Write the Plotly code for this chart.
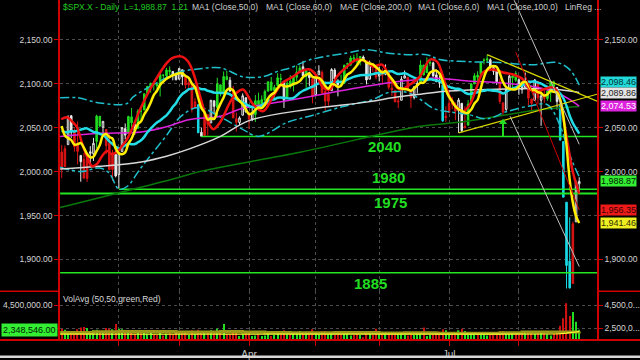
import plotly.graph_objects as go
import pandas as pd

# ---------------- DATA ----------------
month_days = {
    1: [6,7,8,9,12,13,14,15,16,20,21,22,23,26,27,28,29,30],
    2: [2,3,4,5,6,9,10,11,12,13,17,18,19,20,23,24,25,26,27],
    3: [2,3,4,5,6,9,10,11,12,13,16,17,18,19,20,23,24,25,26,27,30,31],
    4: [1,2,6,7,8,9,10,13,14,15,16,17,20,21,22,23,24,27,28,29,30],
    5: [1,4,5,6,7,8,11,12,13,14,15,18,19,20,21,22,26,27,28,29],
    6: [1,2,3,4,5,8,9,10,11,12,15,16,17,18,19,22,23,24,25,26,29,30],
    7: [1,2,6,7,8,9,10,13,14,15,16,17,20,21,22,23,24,27,28,29,30,31],
    8: [3,4,5,6,7,10,11,12,13,14,17,18,19,20,21,24,25,26,27,28],
}
dates = [f"2015-{m:02d}-{d:02d}" for m, ds in month_days.items() for d in ds]

opens = [2022.15,2005.55,2030.61,2063.45,2046.13,2031.58,2018.40,2013.75,1992.25,2020.76,2020.19,2034.30,2062.98,2050.42,2047.86,2032.34,2002.45,2019.35,
 1996.67,2022.71,2048.86,2043.45,2062.28,2053.47,2049.38,2068.55,2069.98,2088.78,2096.47,2099.16,2099.25,2097.65,2109.83,2109.10,2115.30,2113.91,2110.88,
 2105.23,2115.76,2107.72,2098.54,2100.91,2072.25,2076.14,2044.69,2041.10,2064.56,2055.35,2080.59,2072.84,2098.69,2090.32,2107.99,2103.94,2093.10,2059.94,2055.78,2064.11,2084.05,
 2067.63,2060.03,2064.87,2080.79,2076.94,2081.29,2091.51,2102.03,2092.28,2097.82,2105.96,2102.58,2084.11,2102.82,2098.27,2107.21,2112.80,2119.29,2108.35,2112.49,2105.52,
 2087.38,2110.23,2112.63,2091.26,2079.96,2092.13,2115.56,2102.87,2099.62,2100.43,2122.07,2121.30,2129.45,2127.79,2125.55,2130.36,2125.34,2105.13,2122.27,2120.66,
 2108.64,2110.41,2110.64,2112.35,2095.09,2092.34,2079.07,2081.12,2106.24,2107.43,2091.34,2084.26,2097.40,2101.58,2121.06,2112.50,2123.16,2123.65,2109.96,2102.62,2098.63,2061.19,
 2067.00,2078.03,2073.95,2069.52,2077.66,2049.73,2052.74,2080.03,2099.72,2109.73,2110.55,2126.80,2126.85,2127.19,2118.21,2114.16,2102.24,2078.19,2070.75,2093.51,2106.78,2111.60,
 2104.49,2097.68,2095.27,2100.75,2082.61,2080.98,2102.66,2081.10,2086.19,2083.15,2089.70,2101.99,2095.69,2076.61,2034.08,1965.15,1898.08,1872.75,1942.77,1986.06]
highs = [2030.25,2029.61,2064.08,2064.43,2049.30,2056.93,2018.40,2021.35,2020.46,2028.94,2038.29,2064.62,2062.98,2057.62,2047.86,2042.49,2024.64,2023.32,
 2021.66,2050.30,2054.74,2063.55,2072.40,2056.16,2070.86,2073.48,2088.53,2097.03,2101.30,2100.23,2102.13,2110.61,2110.05,2117.94,2119.59,2113.91,2112.74,
 2117.52,2115.76,2107.72,2104.25,2100.91,2083.49,2076.14,2050.08,2066.41,2064.56,2081.41,2080.59,2106.85,2098.69,2113.92,2114.86,2107.63,2097.43,2067.15,2062.83,2088.97,2084.05,
 2067.63,2072.17,2086.99,2089.81,2086.69,2093.31,2102.61,2107.65,2098.62,2111.91,2111.30,2102.58,2103.94,2109.64,2109.98,2120.49,2120.92,2125.92,2116.04,2113.65,2105.52,
 2108.41,2120.95,2115.24,2098.42,2092.90,2117.66,2117.69,2105.06,2110.19,2121.45,2123.89,2131.78,2133.02,2134.72,2131.42,2132.15,2125.34,2126.22,2122.27,2120.66,
 2119.15,2117.59,2121.92,2112.89,2100.99,2093.01,2085.62,2108.50,2115.02,2107.43,2091.34,2097.40,2106.79,2126.65,2121.64,2129.87,2128.03,2125.10,2116.04,2108.92,2098.63,2074.28,
 2082.78,2085.06,2078.61,2083.74,2077.66,2074.28,2081.31,2100.67,2111.98,2114.14,2124.42,2128.91,2132.82,2128.91,2118.51,2116.87,2106.01,2078.19,2095.60,2110.60,2110.48,2114.24,
 2105.70,2102.51,2112.66,2103.32,2082.61,2105.35,2102.66,2089.06,2092.93,2092.45,2102.87,2103.47,2096.17,2076.61,2034.08,1965.15,1948.04,1943.09,1989.60,1993.48]
lows = [1992.44,2005.55,2030.61,2038.33,2022.58,2008.25,1988.44,1991.47,1988.12,2004.49,2012.04,2026.38,2050.54,2040.97,2019.91,2001.49,1989.18,1993.38,
 1980.90,2022.71,2036.72,2043.45,2049.97,2041.88,2048.62,2057.99,2069.98,2086.70,2089.80,2092.15,2090.79,2085.44,2103.00,2105.87,2109.89,2103.76,2103.75,
 2104.50,2098.26,2094.49,2095.22,2067.27,2072.21,2044.16,2039.69,2041.10,2041.17,2055.35,2065.08,2061.23,2085.56,2090.32,2104.42,2091.50,2061.05,2045.50,2052.96,2064.11,2067.04,
 2048.38,2057.32,2056.52,2076.10,2073.30,2074.29,2091.51,2092.33,2083.24,2097.82,2100.02,2072.37,2084.11,2094.38,2091.05,2103.19,2112.80,2107.04,2094.89,2097.41,2077.59,
 2087.38,2110.23,2088.46,2067.93,2074.99,2092.13,2104.58,2085.57,2096.04,2100.43,2116.81,2120.01,2124.50,2122.59,2120.88,2126.06,2099.18,2105.13,2112.86,2104.89,
 2102.54,2099.14,2109.61,2093.23,2085.67,2079.11,2072.14,2081.12,2106.24,2091.33,2072.49,2082.10,2088.86,2101.58,2109.45,2112.50,2119.89,2108.58,2101.78,2095.38,2056.64,2056.32,
 2067.00,2071.02,2058.40,2044.02,2044.66,2049.73,2052.74,2080.03,2099.72,2102.49,2110.55,2122.01,2123.66,2115.40,2110.00,2098.63,2077.09,2063.52,2069.09,2093.51,2094.97,2102.07,
 2087.31,2088.60,2095.27,2075.53,2067.91,2080.98,2076.49,2052.09,2078.26,2080.61,2079.30,2094.14,2070.53,2035.73,1970.89,1867.01,1867.08,1872.75,1942.77,1975.19]
closes = [2002.61,2025.90,2062.14,2044.81,2028.26,2023.03,2011.27,1992.67,2019.42,2022.55,2032.12,2063.15,2051.82,2057.09,2029.55,2002.16,2021.25,1994.99,
 2020.85,2050.03,2041.51,2062.52,2055.47,2046.74,2068.59,2068.53,2088.48,2096.99,2100.34,2099.68,2097.45,2110.30,2109.66,2115.48,2113.86,2110.74,2104.50,
 2117.39,2107.78,2098.53,2101.04,2071.26,2079.43,2044.16,2040.24,2065.95,2053.40,2081.19,2074.28,2099.50,2089.27,2108.10,2104.42,2091.50,2061.05,2056.15,2061.02,2086.24,2067.89,
 2059.69,2066.96,2080.62,2076.33,2081.90,2091.18,2102.06,2092.43,2095.84,2106.63,2104.99,2081.18,2100.40,2097.29,2107.96,2112.93,2117.69,2108.92,2114.76,2106.85,2085.51,
 2108.29,2114.49,2089.46,2080.15,2088.00,2116.10,2105.33,2099.12,2098.48,2121.10,2122.73,2129.20,2127.83,2125.85,2130.82,2126.06,2104.20,2123.48,2120.79,2107.39,
 2111.73,2109.60,2114.07,2095.84,2092.83,2079.28,2080.15,2105.20,2108.86,2094.11,2084.43,2096.29,2100.44,2121.24,2109.99,2122.85,2124.20,2108.58,2102.31,2101.49,2057.64,2063.11,
 2077.42,2076.78,2068.76,2081.34,2046.68,2051.31,2076.62,2099.60,2108.95,2107.40,2124.29,2126.64,2128.28,2119.21,2114.15,2102.15,2079.65,2067.64,2093.25,2108.57,2108.63,2103.84,
 2098.04,2093.32,2099.84,2083.56,2077.57,2104.18,2084.07,2086.05,2083.39,2091.54,2102.44,2096.92,2079.61,2035.73,1970.89,1893.21,1867.61,1940.51,1987.66,1988.87]
# closes Dec 8 2014 .. Jan 5 2015 (warm-up for the moving averages)
prior_closes = [2060.31,2059.82,2026.14,2035.33,2002.33,1989.63,1972.74,2012.89,2061.23,2070.65,
                2078.54,2082.17,2081.88,2088.77,2090.57,2080.35,2058.90,2058.20,2020.58]

# paint-bar state per candle: g=green, r=red, w=white, c=cyan
candle_state = ("rrwwrrwrrwwggwrrrw" "wwwggwgggggggggggww" "wwrrrrcwrrwwggggwrrwww"
                "rwgggggggggwgggggwgwr" "wwrrrwwwgggggggwwwrr" "wrwrrrrwwrrwwggggwwwcr"
                "rrrwwrgggggggwwwrrwwgg" "wwwrrwrwrgggwccccrww")

volumes = [2.45,2.35,2.25,2.15,2.25,2.4,2.55,2.6,2.5,2.2,2.3,2.35,2.1,2.05,2.5,2.45,2.4,2.85,
 2.45,2.4,2.3,2.2,2.15,2.0,2.1,2.05,2.2,2.0,2.1,1.95,1.9,2.1,1.85,2.0,2.05,1.95,2.15,
 2.0,2.1,2.1,1.9,2.3,2.0,2.35,2.2,2.05,2.1,2.3,2.05,2.45,2.15,2.85,2.0,2.0,2.3,2.2,1.8,1.95,2.1,
 2.15,1.8,1.85,1.95,1.8,1.85,2.0,1.8,1.9,2.05,1.95,2.3,1.95,1.95,2.0,2.05,2.25,2.0,2.2,2.2,2.4,
 2.1,1.95,2.2,2.25,2.1,2.0,1.9,2.05,1.95,2.05,2.0,1.85,1.9,2.0,1.9,1.7,2.1,1.95,1.9,2.45,
 1.95,2.0,2.0,2.15,1.95,1.95,2.0,2.1,1.9,1.85,1.95,1.9,1.95,2.0,2.55,1.8,1.9,1.95,1.95,2.2,2.4,2.3,
 2.1,1.9,2.05,2.3,2.45,2.25,2.15,2.05,1.95,1.9,2.0,1.95,1.85,2.0,2.05,2.1,2.2,2.25,2.1,2.15,2.0,2.05,
 2.1,2.15,2.2,2.25,2.1,2.0,2.15,2.2,2.05,1.95,1.85,2.0,2.25,2.7,3.35,4.67,3.55,3.9,3.05,2.348546]
prior_close_for_volume = 2020.58

# slow lines (index of trading day, price)
ma50_idx = [-0.5,12,25,33,40,50,57,70,85,96,106,113,117,128,138,148,157,163]
ma50_val = [2040,2043.5,2045,2051,2059,2063,2072,2080,2090,2097,2102.5,2105,2106.5,2103,2101,2097,2088,2074.53]
ma100_idx = [-0.5,12,25,33,40,50,59,78,96,106,113,120,130,140,150,157,163]
ma100_val = [2003,2006,2011,2017.5,2025.5,2040,2058,2071,2079,2085,2088,2091,2093,2094,2094.5,2093,2089.86]
ema200_idx = [-0.5,35,44,75,113,125,151,163]
ema200_val = [1959,1991.5,2000.5,2022,2051.5,2056,2070.5,2074]
env_up_idx = [-0.5,5,12,20.6,22.5,30,36.3,43.6,50,57,63.4,68,72,78,90,96,102.4,109,115,119,128.6,138,148.4,156,160,163]
env_up_val = [2084,2084,2078,2077.5,2085,2101,2112.5,2117,2118,2108,2108,2114,2118,2127,2135,2138.5,2135,2133,2133,2127.5,2125,2124,2121.5,2124,2116,2098.46]
env_lo_idx = [-0.5,6,12,15,18,20.6,24.7,28.8,33.2,37.3,43,50,57,62,71,78,88.6,98,103,109,113,117,122,128,134,140,148,153,157,159,161,163]
env_lo_val = [2005,2000,2004,1998,1980,1983,2003,2022,2042,2062,2073,2062,2048,2040,2056,2063,2074,2082,2090,2090,2082,2072,2068,2065,2060,2068,2075,2076,2052,2030,2010,1994]
red_idx = [-0.2,1.7,3.2,4.8,6.3,7.9,9.5,11.1,12.7,14.3,15.8,17.4,19,20.6,22.5,24.7,27.8,31,33.2,35.1,37.9,39.8,41.4,43.6,45.8,47.7,49.9,53,55.2,57.1,60.3,63.4,66.6,69.7,72.9,75.1,78.2,80.4,82.3,84.5,86.7,89.9,93,96.1,98,100.9,103.4,106.5,109.7,112.8,116,118.2,120.1,122.3,124.5,126.4,128.6,130.8,132.7,135.9,139,142.2,145.3,147.5,149.7,151.6,154.7,156.3,157.9,159.5,161,163]
red_val = [2059.5,2061.8,2057.2,2050.5,2033.5,2017.6,2006.3,2008.6,2017.6,2023.3,2019.9,2022.2,2029,2036.9,2051.6,2070.8,2093.4,2112.7,2124,2129.6,2130.8,2125.1,2112.7,2085.5,2059.5,2048.2,2056.1,2078.7,2090,2093.4,2076.5,2068.6,2085.5,2101.4,2108.1,2113.8,2116.1,2108.1,2095.7,2093.4,2108.1,2119.5,2127.4,2125.1,2119.5,2121.7,2107,2093.4,2099.1,2108.1,2127.4,2125.1,2108.1,2084.4,2073.1,2068.6,2076.5,2096.8,2112.7,2116.1,2112.7,2110.4,2104.8,2093.4,2090,2093.4,2095.7,2090,2062.9,2029,1999.5,1975]

# drawn studies
support_levels = [2040, 1980, 1975, 1885]
support_start = [44, 18, -0.5, -0.5]
support_label_idx = [101.8, 103, 103.7, 97.1]
support_label_shift = [-10, 12, -9, -11]
linreg_idx, linreg_val = [143, 163], [2135.91, 1956.35]
chan_a_idx, chan_a_val = [142.5, 163], [2195, 2031]
chan_b_idx, chan_b_val = [141.2, 163], [2063, 1892]
tri_top_idx, tri_top_val = [134, 168.6], [2133, 2080]
tri_bot_idx, tri_bot_val = [125, 168.6], [2044, 2088]
arrow_idx, arrow_lo, arrow_hi = 139, 2040, 2056
volavg_idx = [-0.5, 40, 80, 120, 150, 156, 159, 161, 163]
volavg_val = [1.97, 1.96, 1.95, 1.95, 1.96, 1.98, 2.05, 2.12, 2.2]
volavg2_idx = [-0.5,10,18,27,36,43,50,57,64,72,79,86,93,100,108,118,128,138,145,155,163]
volavg2_val = [2.12,2.17,2.2,2.2,2.15,2.15,2.2,2.15,2.12,2.1,2.1,2.12,2.12,2.08,2.1,2.05,2.05,2.1,2.15,2.15,2.2]
box_values = [2098.46, 2089.86, 2074.53, 1988.87, 1956.35, 1941.46]
box_shift = [3, 0, 0, 0, 0, 0]
box_colors = ["#22d8d8", "#e4e4e4", "#dd22dd", "#33ee33", "#ee1a1a", "#eeee22"]
box_text = ["#003333", "#222222", "#ffffff", "#002200", "#3a0000", "#333300"]
legend_items = ["MA1 (Close,50,0)", "MA1 (Close,60,0)", "MAE (Close,200,0)", "MA1 (Close,6,0)", "MA1 (Close,100,0)", "LinReg ..."]
legend_px = [190, 264, 338, 416, 485, 563]

# ---------------- FIGURE ----------------
n = len(dates)
idx = list(range(n))
X_MIN, X_MAX = -0.54, 168.6
PL, PR, PT, PB = 60, 597, 0, 342
def px(x): return (x - PL) / (PR - PL)
def py(y): return (PB - y) / (PB - PT)

all_c = pd.Series(prior_closes + closes)
ma6 = all_c.rolling(6).mean().iloc[len(prior_closes):].tolist()
ma20 = all_c.rolling(20).mean().iloc[len(prior_closes):].tolist()

fig = go.Figure()
state_colors = {"g": "#22dd22", "r": "#dd1515", "w": "#e8e8e8", "c": "#19d9e6"}
for code, col in state_colors.items():
    sel = [i for i in idx if candle_state[i] == code]
    inc_fill = "#000000" if code == "w" else col
    fig.add_trace(go.Candlestick(
        x=sel, open=[opens[i] for i in sel], high=[highs[i] for i in sel],
        low=[lows[i] for i in sel], close=[closes[i] for i in sel],
        increasing=dict(line=dict(color=col, width=1), fillcolor=inc_fill),
        decreasing=dict(line=dict(color=col, width=1), fillcolor=col),
        whiskerwidth=0, showlegend=False, hoverinfo="skip", xaxis="x", yaxis="y"))

def line(xs, ys, color, width, dash="solid", shape="linear", yaxis="y"):
    fig.add_trace(go.Scatter(x=xs, y=ys, mode="lines", hoverinfo="skip", showlegend=False,
                             line=dict(color=color, width=width, dash=dash, shape=shape),
                             xaxis="x", yaxis=yaxis))

# support levels
for lvl, st in zip(support_levels, support_start):
    line([st, X_MAX], [lvl, lvl], "#22e622", 2 if lvl == 1975 else 1.5)

line(ema200_idx, ema200_val, "#0b780b", 1.5, shape="spline")
line(env_up_idx, env_up_val, "#1fc0cc", 1.5, dash="dashdot", shape="spline")
line(env_lo_idx, env_lo_val, "#1fc0cc", 1.5, dash="dashdot", shape="spline")
line(ma100_idx, ma100_val, "#d8d8d8", 1.5, shape="spline")
line(ma50_idx, ma50_val, "#dd22dd", 1.5, shape="spline")
line(idx, ma20, "#22dde6", 2.5, shape="spline")
line(red_idx, red_val, "#ee1111", 2.5, shape="spline")
line(idx, ma6, "#ffee00", 2.5, shape="spline")
line(tri_top_idx, tri_top_val, "#d8d800", 1.2)
line(tri_bot_idx, tri_bot_val, "#d8d800", 1.2)
line(chan_a_idx, chan_a_val, "#c0c0c0", 1)
line(chan_b_idx, chan_b_val, "#c0c0c0", 1)
line(linreg_idx, linreg_val, "#d00000", 1)
line([arrow_idx, arrow_idx], [arrow_lo, arrow_hi], "#22dd22", 2)
fig.add_trace(go.Scatter(x=[arrow_idx], y=[arrow_hi], mode="markers", hoverinfo="skip", showlegend=False,
                         marker=dict(symbol="triangle-up", size=7, color="#22dd22"), xaxis="x", yaxis="y"))

# volume
prevs = [prior_close_for_volume] + closes[:-1]
vol_cols = ["#22dd22" if c >= p else "#cc1111" for c, p in zip(closes, prevs)]
fig.add_trace(go.Bar(x=idx, y=volumes, marker=dict(color=vol_cols, line=dict(width=0)), width=0.38,
                     hoverinfo="skip", showlegend=False, xaxis="x", yaxis="y2"))
line(volavg2_idx, volavg2_val, "#9a9a18", 3, shape="hv", yaxis="y2")
line(volavg_idx, volavg_val, "#ffff33", 1.2, yaxis="y2")

# dummy traces for mirrored right axes
fig.add_trace(go.Scatter(x=[0], y=[2000], mode="markers", marker=dict(opacity=0), hoverinfo="skip", showlegend=False, xaxis="x", yaxis="y3"))
fig.add_trace(go.Scatter(x=[0], y=[2], mode="markers", marker=dict(opacity=0), hoverinfo="skip", showlegend=False, xaxis="x", yaxis="y4"))

RED = "#d00000"
GRID = "#4c4c4c"
FONT = "Liberation Sans"
month_ticks = [dates.index(d) for d in ["2015-02-02", "2015-03-02", "2015-04-01", "2015-05-01", "2015-06-01", "2015-07-01", "2015-08-03"]]
month_text = ["", "", "Apr", "", "", "Jul", ""]
price_ticks = [1900, 1950, 2000, 2050, 2100, 2150]
left_price_text = [f"{v:,.2f}" for v in price_ticks]
# right-hand labels hidden by value tags in the reference
right_price_text = [f"{v:,.2f}" if v not in (1950, 2100) else "" for v in price_ticks]
price_range = [1863.8, 2195.2]
vol_range = [1.457, 5.717]
split = (PB - 293) / (PB - PT)

yax = dict(range=price_range, tickvals=price_ticks, ticks="outside", ticklen=4,
           tickcolor=RED, showline=True, linecolor=RED, linewidth=1.5, zeroline=False,
           tickfont=dict(color="#d4d4d4", size=8.5, family=FONT), domain=[split, 1])
vax = dict(range=vol_range, tickvals=[2.5, 4.5], ticks="outside", ticklen=4, tickcolor=RED,
           showline=True, linecolor=RED, linewidth=1.5, zeroline=False,
           tickfont=dict(color="#d4d4d4", size=8.5, family=FONT), domain=[0, split])

fig.update_layout(
    width=640, height=360, margin=dict(l=PL, r=640 - PR, t=PT, b=360 - PB),
    paper_bgcolor="black", plot_bgcolor="black", showlegend=False, hovermode=False,
    font=dict(family=FONT, color="#d4d4d4"),
    xaxis=dict(range=[X_MIN, X_MAX], anchor="y2", tickvals=month_ticks, ticktext=month_text,
               ticks="outside", ticklen=5, tickcolor=RED, showgrid=True, gridcolor=GRID, griddash="dot",
               showline=False, zeroline=False, rangeslider=dict(visible=False),
               tickfont=dict(color="#c8c8c8", size=10, family=FONT)),
    yaxis=dict(**yax, side="left", anchor="x", ticktext=left_price_text, showgrid=True, gridcolor=GRID, griddash="dot"),
    yaxis3=dict(**yax, side="right", anchor="x", overlaying="y", ticktext=right_price_text, showgrid=False),
    yaxis2=dict(**vax, side="left", anchor="x", ticktext=["", "4,500,000.00"],
                showgrid=True, gridcolor=GRID, griddash="dot"),
    yaxis4=dict(**vax, side="right", anchor="x", overlaying="y2", ticktext=["2,500,0...", "4,500,0..."], showgrid=False),
)

shapes = [
    dict(type="line", xref="paper", yref="paper", x0=px(0), x1=px(640), y0=py(342), y1=py(342), line=dict(color=RED, width=2)),
    dict(type="line", xref="paper", yref="paper", x0=px(0), x1=px(60), y0=py(293), y1=py(293), line=dict(color=RED, width=1.5)),
    dict(type="line", xref="paper", yref="paper", x0=px(597), x1=px(640), y0=py(293), y1=py(293), line=dict(color=RED, width=1.5)),
    dict(type="rect", xref="paper", yref="paper", x0=px(0), x1=px(640), y0=py(360), y1=py(357.5), fillcolor="#d8d8d8", line=dict(width=0)),
]
fig.update_layout(shapes=shapes)

ann = []
ann.append(dict(text="$SPX.X - Daily  L=1,988.87  1.21", x=px(61), y=py(7), xref="paper", yref="paper",
                xanchor="left", yanchor="middle", showarrow=False, font=dict(color="#22cc22", size=8.5, family=FONT)))
for t, xpos in zip(legend_items, legend_px):
    ann.append(dict(text=t, x=px(xpos), y=py(7), xref="paper", yref="paper", xanchor="left", yanchor="middle",
                    showarrow=False, font=dict(color="#cfcfcf", size=8.5, family=FONT)))
ann.append(dict(text="VolAvg (50,50,green,Red)", x=px(61), y=py(300.5), xref="paper", yref="paper",
                xanchor="left", yanchor="middle", showarrow=False, font=dict(color="#d8d8d8", size=8.5, family=FONT)))
for lvl, lx, sh in zip(support_levels, support_label_idx, support_label_shift):
    ann.append(dict(text=f"<b>{lvl}</b>", x=lx, y=lvl, xref="x", yref="y", yshift=sh, showarrow=False,
                    font=dict(color="#22dd22", size=15, family=FONT)))
for v, bc, tc, sh in zip(box_values, box_colors, box_text, box_shift):
    ann.append(dict(text=f"{v:,.2f}", x=px(600), y=v, xref="paper", yref="y", yshift=sh, xanchor="left", yanchor="middle",
                    showarrow=False, bgcolor=bc, borderpad=0, font=dict(color=tc, size=9, family=FONT)))
ann.append(dict(text=f"{volumes[-1] * 1e6:,.2f}", x=px(1), y=volumes[-1], xref="paper", yref="y2",
                xanchor="left", yanchor="middle", showarrow=False, bgcolor="#33ee33", borderpad=1,
                font=dict(color="#002200", size=9, family=FONT)))
fig.update_layout(annotations=ann)

fig.write_html("out.html")
